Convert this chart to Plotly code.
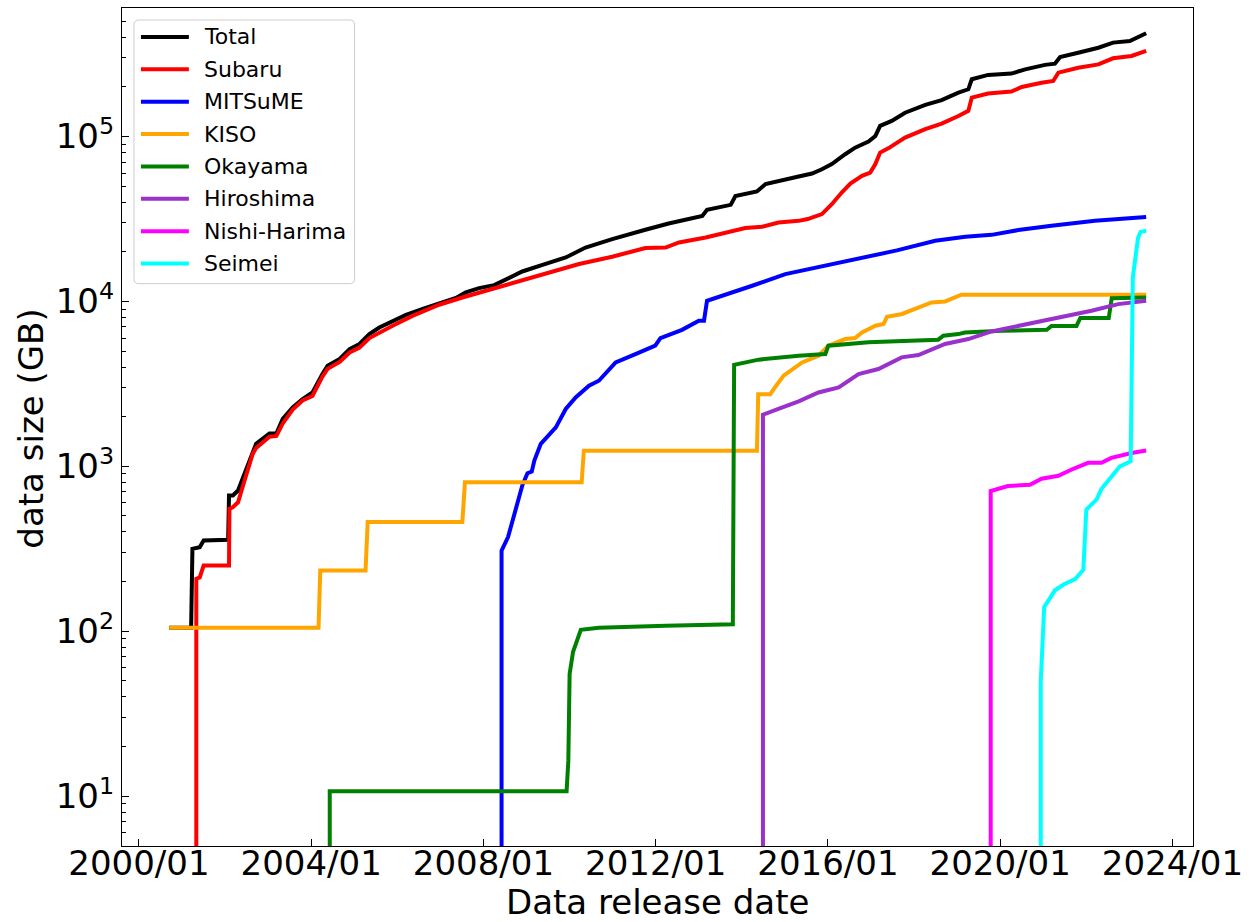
import plotly.graph_objects as go
from datetime import datetime

# ---------------- data (release date as decimal year, cumulative size in GB) ----------------
series_names = ["Total", "Subaru", "MITSuME", "KISO", "Okayama", "Hiroshima", "Nishi-Harima", "Seimei"]
series_colors = ["#000000", "#ff0000", "#0000ff", "#ffa500", "#008000", "#9932cc", "#ff00ff", "#00ffff"]

total_year = [2000.70, 2001.21, 2001.24, 2001.33, 2001.41, 2001.50, 2002.07, 2002.09, 2002.18, 2002.30,
              2002.45, 2002.64, 2002.72, 2003.03, 2003.19, 2003.34, 2003.57, 2003.80, 2004.03, 2004.26,
              2004.38, 2004.66, 2004.89, 2005.12, 2005.35, 2005.58, 2005.89, 2006.20, 2006.59, 2006.97,
              2007.36, 2007.59, 2007.90, 2008.25, 2008.44, 2008.90, 2009.37, 2009.91, 2010.37, 2010.99,
              2011.76, 2012.30, 2013.08, 2013.19, 2013.74, 2013.85, 2014.35, 2014.55, 2015.32, 2015.63,
              2015.86, 2016.09, 2016.40, 2016.63, 2016.94, 2017.10, 2017.21, 2017.48, 2017.79, 2018.26,
              2018.64, 2019.03, 2019.26, 2019.34, 2019.72, 2020.26, 2020.58, 2021.04, 2021.27, 2021.39,
              2021.81, 2022.28, 2022.62, 2023.01, 2023.39]
total_gb = [105, 105, 316, 320, 323, 355, 358, 665, 665, 713,
            900, 1245, 1370, 1580, 1580, 1940, 2275, 2560, 2810, 3630,
            4070, 4480, 5140, 5520, 6340, 6950, 7570, 8280, 9000, 9730,
            10500, 11350, 12050, 12560, 13340, 15200, 16670, 18490, 21230, 23880,
            27230, 29720, 33040, 35970, 38550, 43550, 46450, 51520, 57280, 59700,
            63390, 68080, 78160, 85700, 93330, 100900, 116100, 124500, 139600, 155600,
            166300, 184900, 193600, 222800, 236600, 241000, 255900, 272300, 276700, 304100,
            322800, 345900, 371500, 380200, 423600]

subaru_year = [2001.33, 2001.33, 2001.41, 2001.50, 2002.09, 2002.10, 2002.18, 2002.30, 2002.45, 2002.64,
               2002.72, 2002.88, 2003.03, 2003.19, 2003.34, 2003.57, 2003.80, 2004.03, 2004.26, 2004.38,
               2004.66, 2004.89, 2005.12, 2005.35, 2005.58, 2005.89, 2006.35, 2006.97, 2007.51, 2008.06,
               2008.67, 2009.45, 2010.22, 2010.99, 2011.76, 2012.23, 2012.54, 2013.16, 2013.70, 2014.08,
               2014.47, 2014.85, 2015.32, 2015.53, 2015.86, 2016.09, 2016.32, 2016.52, 2016.79, 2016.98,
               2017.10, 2017.21, 2017.41, 2017.79, 2018.26, 2018.64, 2019.03, 2019.26, 2019.34, 2019.72,
               2020.26, 2020.50, 2020.96, 2021.23, 2021.35, 2021.81, 2022.28, 2022.62, 2023.05, 2023.39]
subaru_gb = [0, 208, 212, 250, 250, 552, 565, 605, 818, 1190,
             1290, 1410, 1510, 1530, 1820, 2210, 2510, 2670, 3500, 3900,
             4300, 4900, 5250, 6000, 6490, 7130, 8180, 9550, 10570, 11610,
             13030, 14790, 16870, 18660, 21090, 21230, 22800, 24430, 26180, 27860,
             28380, 30130, 30830, 31620, 33880, 38900, 45810, 51880, 57810, 60530,
             68080, 79980, 85110, 98620, 110900, 119900, 133400, 143200, 172200, 182400,
             187500, 200000, 212300, 217300, 244300, 261800, 274200, 298500, 308300, 331100]

mitsume_year = [2008.42, 2008.42, 2008.57, 2008.76, 2008.90, 2009.02, 2009.12, 2009.18, 2009.33, 2009.68,
                2009.91, 2010.14, 2010.45, 2010.68, 2011.07, 2011.53, 2011.99, 2012.11, 2012.61, 2013.00,
                2013.12, 2013.19, 2013.69, 2014.24, 2015.01, 2016.01, 2016.71, 2017.60, 2018.49, 2019.19,
                2019.80, 2020.42, 2021.19, 2022.20, 2023.39]
mitsume_gb = [0, 308, 372, 565, 764, 908, 929, 1084, 1368, 1722,
              2228, 2618, 3083, 3304, 4266, 4797, 5395, 5998, 6730, 7640,
              7640, 10090, 11090, 12450, 14660, 16670, 18100, 20400, 23330, 24660,
              25350, 27100, 28770, 30830, 32580]

kiso_year = [2000.70, 2004.17, 2004.21, 2005.26, 2005.31, 2007.51, 2007.57, 2010.28, 2010.33, 2014.35,
             2014.38, 2014.66, 2014.78, 2014.97, 2015.40, 2015.78, 2016.01, 2016.40, 2016.63, 2016.79,
             2017.10, 2017.29, 2017.37, 2017.72, 2018.11, 2018.41, 2018.72, 2019.10, 2023.39]
kiso_gb = [105, 105, 233, 233, 460, 460, 800, 800, 1245, 1245,
           2740, 2740, 3040, 3548, 4266, 4688, 5395, 5916, 5998, 6486,
           7129, 7295, 8072, 8395, 9204, 9863, 10000, 10990, 10990]

okayama_year = [2004.43, 2004.43, 2009.93, 2009.97, 2010.00, 2010.08, 2010.26, 2010.68, 2012.23, 2013.79,
                2013.82, 2014.39, 2015.32, 2015.94, 2016.01, 2016.94, 2018.56, 2018.68, 2019.03, 2019.18,
                2020.03, 2021.08, 2021.19, 2021.77, 2021.86, 2022.52, 2022.59, 2023.39]
okayama_gb = [0, 10.7, 10.7, 16.4, 55, 75, 102, 105, 108, 110,
              4130, 4436, 4688, 4797, 5395, 5649, 5861, 6194, 6339, 6486,
              6637, 6730, 7100, 7100, 7940, 7940, 10470, 10570]

hiroshima_year = [2014.49, 2014.49, 2014.85, 2015.32, 2015.78, 2016.25, 2016.71, 2017.17, 2017.71, 2018.10,
                  2018.72, 2019.26, 2019.80, 2020.80, 2021.50, 2022.12, 2022.74, 2023.39]
hiroshima_gb = [0, 2055, 2228, 2477, 2805, 3013, 3631, 3890, 4581, 4732,
                5521, 5916, 6577, 7464, 8072, 8790, 9638, 10090]

nishiharima_year = [2019.78, 2019.78, 2020.18, 2020.69, 2020.96, 2021.35, 2021.66, 2022.04, 2022.35, 2022.58,
                    2023.05, 2023.39]
nishiharima_gb = [0, 708, 759, 773, 841, 877, 957, 1050, 1050, 1125,
                  1205, 1247]

seimei_year = [2020.94, 2020.94, 2021.02, 2021.27, 2021.47, 2021.74, 2021.93, 2022.00, 2022.24, 2022.35,
               2022.78, 2023.03, 2023.08, 2023.20, 2023.26, 2023.39]
seimei_gb = [0, 49, 140, 177, 192, 207, 236, 546, 631, 728,
             1000, 1074, 13960, 24210, 26420, 26850]

x_tick_years = [2000, 2004, 2008, 2012, 2016, 2020, 2024]
x_tick_labels = ["2000/01", "2004/01", "2008/01", "2012/01", "2016/01", "2020/01", "2024/01"]
y_tick_values = [10, 100, 1000, 10000, 100000]
y_tick_labels = ["10<sup>1</sup>", "10<sup>2</sup>", "10<sup>3</sup>", "10<sup>4</sup>", "10<sup>5</sup>"]

all_years = [total_year, subaru_year, mitsume_year, kiso_year, okayama_year,
             hiroshima_year, nishiharima_year, seimei_year]
all_gb = [total_gb, subaru_gb, mitsume_gb, kiso_gb, okayama_gb,
          hiroshima_gb, nishiharima_gb, seimei_gb]


def to_dates(years):
    out = []
    for d in years:
        y = int(d)
        start = datetime(y, 1, 1)
        end = datetime(y + 1, 1, 1)
        out.append(start + (end - start) * (d - y))
    return out


FLOOR = 1e-3  # zero values are clipped like matplotlib's log scale (line drops out of view)

fig = go.Figure()
for name, color, yrs, gb in zip(series_names, series_colors, all_years, all_gb):
    fig.add_trace(go.Scatter(
        x=to_dates(yrs),
        y=[v if v > 0 else FLOOR for v in gb],
        mode="lines", name=name, showlegend=False,
        line=dict(color=color, width=4),
    ))

# ---------------- layout ----------------
W, H = 1250, 922
ML, MR, MT, MB = 122, 55, 7, 76
PW, PH = W - ML - MR, H - MT - MB
FONT = "DejaVu Sans"


def px_x(p):
    return (p - ML) / PW


def px_y(p):
    return (H - MB - p) / PH


minor_vals = [m * 10 ** k for k in range(0, 6) for m in range(2, 10)]
minor_vals = [v for v in minor_vals if 5 <= v <= 6e5]

x_range = [d.strftime("%Y-%m-%d %H:%M") for d in to_dates([1999.606, 2024.477])]

fig.update_layout(
    width=W, height=H,
    margin=dict(l=ML, r=MR, t=MT, b=MB),
    paper_bgcolor="white", plot_bgcolor="white",
    font=dict(family=FONT, size=34, color="black"),
    showlegend=False,
    xaxis=dict(
        type="date", range=x_range,
        tickmode="array", tickvals=to_dates(x_tick_years), ticktext=x_tick_labels,
        ticks="inside", ticklen=7, tickwidth=1.2, tickcolor="black",
        ticklabelstandoff=-13,
        tickfont=dict(family=FONT, size=34, color="black"),
        showline=True, linecolor="black", linewidth=1.2, mirror=True,
        showgrid=False, zeroline=False,
    ),
    yaxis=dict(
        type="log", range=[0.697, 5.78],
        tickmode="array", tickvals=y_tick_values, ticktext=y_tick_labels,
        ticks="inside", ticklen=6.5, tickwidth=1.2, tickcolor="black",
        tickfont=dict(family=FONT, size=34, color="black"),
        minor=dict(tickmode="array", tickvals=minor_vals, ticks="inside", ticklen=3.5,
                   tickwidth=1, tickcolor="black", showgrid=False),
        showline=True, linecolor="black", linewidth=1.2, mirror=True,
        showgrid=False, zeroline=False,
    ),
)

# axis titles
fig.add_annotation(text="data size (GB)", xref="paper", yref="paper",
                   x=px_x(31), y=px_y(428), xanchor="center", yanchor="middle",
                   textangle=-90, showarrow=False, font=dict(family=FONT, size=34, color="black"))
fig.add_annotation(text="Data release date", xref="paper", yref="paper",
                   x=px_x(659), y=px_y(902), xanchor="center", yanchor="middle",
                   showarrow=False, font=dict(family=FONT, size=34, color="black"))

# legend (matplotlib-style framed box)
bx0, by0, bx1, by1, r = 134, 19, 355, 283, 5


def pt(x, y):
    return f"{px_x(x):.5f},{px_y(y):.5f}"


path = (f"M{pt(bx0 + r, by0)} L{pt(bx1 - r, by0)} Q{pt(bx1, by0)} {pt(bx1, by0 + r)} "
        f"L{pt(bx1, by1 - r)} Q{pt(bx1, by1)} {pt(bx1 - r, by1)} "
        f"L{pt(bx0 + r, by1)} Q{pt(bx0, by1)} {pt(bx0, by1 - r)} "
        f"L{pt(bx0, by0 + r)} Q{pt(bx0, by0)} {pt(bx0 + r, by0)} Z")
fig.add_shape(type="path", path=path, xref="paper", yref="paper", layer="above",
              fillcolor="rgba(255,255,255,0.8)", line=dict(color="#cccccc", width=1))

for i, (name, color) in enumerate(zip(series_names, series_colors)):
    yy = 36 + 32.4 * i
    fig.add_shape(type="line", xref="paper", yref="paper", layer="above",
                  x0=px_x(141), x1=px_x(189), y0=px_y(yy), y1=px_y(yy),
                  line=dict(color=color, width=4))
    fig.add_annotation(text=name, xref="paper", yref="paper", x=px_x(202), y=px_y(yy),
                       xanchor="left", yanchor="middle", showarrow=False,
                       font=dict(family=FONT, size=22, color="black"))

fig.write_html("out.html")
